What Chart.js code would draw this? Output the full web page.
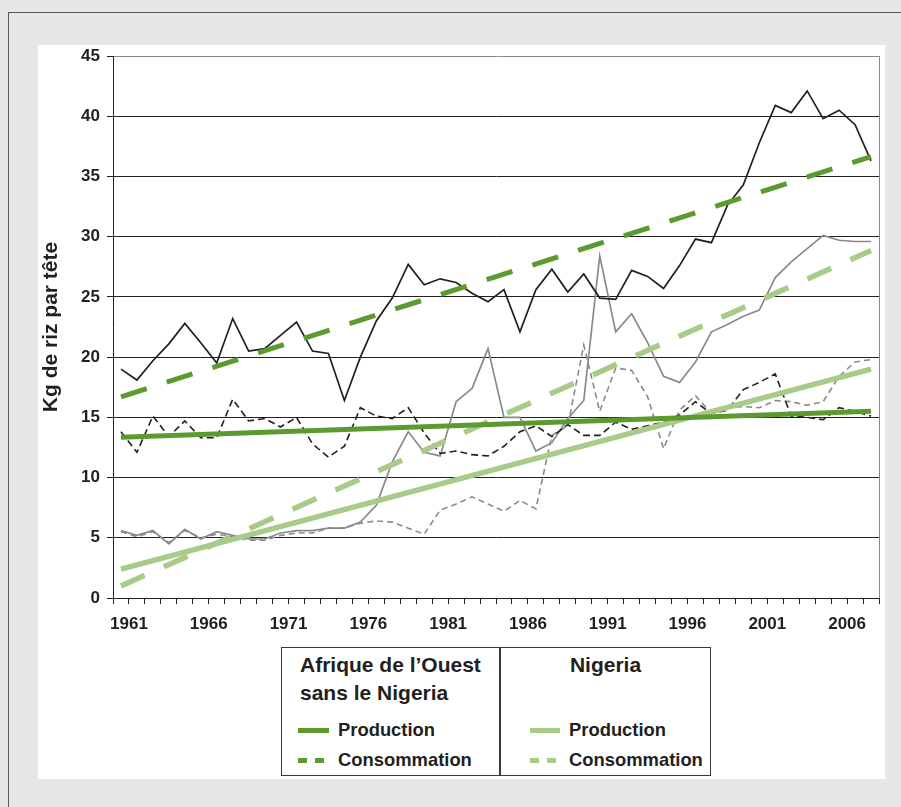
<!DOCTYPE html>
<html lang="fr">
<head>
<meta charset="utf-8">
<title>Kg de riz par tête</title>
<script src="https://cdn.jsdelivr.net/npm/chart.js@4.4.1/dist/chart.umd.min.js"></script>
<style>
  html, body { margin: 0; padding: 0; }
  body {
    width: 901px; height: 807px; position: relative; overflow: hidden;
    background: #e6e7e8; color: #231f20;
    font-family: "Liberation Sans", Arial, Helvetica, sans-serif;
  }
  .cadre { position: absolute; left: 8px; top: 12px; width: 1000px; height: 1000px;
           border-left: 1px solid #58595b; border-top: 1px solid #58595b; }
  .panneau { position: absolute; left: 38px; top: 45px; width: 847px; height: 734px; background: #fff; }
  #grafico { position: absolute; left: 38px; top: 45px; }
  .leyenda { position: absolute; left: 281px; top: 647px; width: 430px; height: 129px;
             border: 1.5px solid #3a3a3a; box-sizing: border-box; }
  .divisor { position: absolute; left: 499px; top: 647px; width: 1.5px; height: 129px; background: #3a3a3a; }
  .titulo { position: absolute; font-weight: bold; font-size: 21px; line-height: 28px; white-space: nowrap; }
  .item { position: absolute; font-weight: bold; font-size: 18.4px; line-height: 20px; white-space: nowrap; }
  .muestra { position: absolute; height: 5px; }
</style>
</head>
<body>
<div class="cadre"></div>
<div class="panneau"></div>
<canvas id="grafico" width="847" height="600"></canvas>

<div class="leyenda"></div>
<div class="divisor"></div>
<div class="titulo" style="left:300px; top:651px;">Afrique de l’Ouest<br>sans le Nigeria</div>
<div class="titulo" style="left:500px; top:651px; width:211px; text-align:center;">Nigeria</div>

<div class="muestra" id="mProdAfrique" style="left:298px; top:728px; width:31px;"></div>
<div class="item" style="left:338px; top:720px;">Production</div>
<div class="muestra" id="mConsoAfrique" style="left:298px; top:758px; width:27px;"></div>
<div class="item" style="left:338px; top:750px;">Consommation</div>

<div class="muestra" id="mProdNigeria" style="left:530px; top:728px; width:30px;"></div>
<div class="item" style="left:569px; top:720px;">Production</div>
<div class="muestra" id="mConsoNigeria" style="left:530px; top:758px; width:27px;"></div>
<div class="item" style="left:569px; top:750px;">Consommation</div>

<script>
// Años (categorías)
const anios = ['1961','1962','1963','1964','1965','1966','1967','1968','1969','1970',
               '1971','1972','1973','1974','1975','1976','1977','1978','1979','1980',
               '1981','1982','1983','1984','1985','1986','1987','1988','1989','1990',
               '1991','1992','1993','1994','1995','1996','1997','1998','1999','2000',
               '2001','2002','2003','2004','2005','2006','2007','2008'];

// Afrique de l'Ouest sans le Nigeria
const consoAfrique = [19.0, 18.1, 19.7, 21.1, 22.8, 21.2, 19.5, 23.2, 20.5, 20.7,
                      21.8, 22.9, 20.5, 20.3, 16.4, 20.0, 23.0, 24.9, 27.7, 26.0,
                      26.5, 26.2, 25.3, 24.6, 25.6, 22.1, 25.6, 27.3, 25.4, 26.9,
                      24.9, 24.8, 27.2, 26.7, 25.7, 27.6, 29.8, 29.5, 32.6, 34.3,
                      37.8, 40.9, 40.3, 42.1, 39.8, 40.5, 39.3, 36.3];
const prodAfrique = [13.8, 12.1, 15.1, 13.4, 14.7, 13.3, 13.3, 16.5, 14.7, 14.9,
                     14.2, 15.0, 12.8, 11.7, 12.6, 15.8, 15.1, 14.9, 15.8, 13.7,
                     12.0, 12.2, 11.9, 11.8, 12.6, 13.8, 14.3, 13.4, 14.4, 13.5,
                     13.5, 14.6, 14.0, 14.3, 14.6, 15.2, 16.3, 15.3, 15.6, 17.3,
                     17.9, 18.6, 15.1, 15.0, 14.8, 15.8, 15.5, 15.1];

// Nigeria
const consoNigeria = [5.6, 5.2, 5.6, 4.5, 5.7, 4.9, 5.5, 5.2, 4.9, 4.9,
                      5.4, 5.6, 5.6, 5.8, 5.8, 6.3, 7.7, 11.3, 13.8, 12.1,
                      11.8, 16.3, 17.4, 20.7, 15.0, 15.0, 12.2, 12.9, 14.9, 16.4,
                      28.4, 22.1, 23.6, 21.2, 18.4, 17.9, 19.6, 22.1, 22.7, 23.4,
                      23.9, 26.6, 27.9, 29.0, 30.1, 29.7, 29.6, 29.6];
const prodNigeria = [5.5, 5.1, 5.5, 4.6, 5.6, 5.0, 5.3, 5.1, 4.8, 4.8,
                     5.2, 5.4, 5.4, 5.8, 5.8, 6.2, 6.4, 6.3, 5.8, 5.3,
                     7.3, 7.8, 8.4, 7.8, 7.2, 8.1, 7.4, 13.5, 14.3, 21.0,
                     15.5, 19.1, 18.9, 16.7, 12.4, 15.6, 16.8, 15.3, 15.8, 15.9,
                     15.8, 16.4, 16.3, 16.0, 16.3, 18.4, 19.6, 19.8];

// Tendencias (extremos)
const aniosTendencia = ['1961', '2008'];
const tendProdAfrique = [13.35, 15.5];
const tendConsoAfrique = [16.7, 36.65];
const tendProdNigeria = [2.4, 19.0];
const tendConsoNigeria = [1.0, 28.85];

const ticksY = [0, 5, 10, 15, 20, 25, 30, 35, 40, 45];

const negro = '#231f20';
const gris = '#8a8a8a';
const verdeOscuro = '#5b9a2f';
const verdeClaro = '#a8cb8a';

// Muestras de la leyenda
document.getElementById('mProdAfrique').style.background = verdeOscuro;
document.getElementById('mProdNigeria').style.background = verdeClaro;
document.getElementById('mConsoAfrique').style.background =
    'repeating-linear-gradient(to right, ' + verdeOscuro + ' 0 9px, transparent 9px 17px)';
document.getElementById('mConsoNigeria').style.background =
    'repeating-linear-gradient(to right, ' + verdeClaro + ' 0 9px, transparent 9px 17px)';

const puntos = (valores) => valores.map((v, i) => ({ x: aniosTendencia[i], y: v }));

const data = {
    labels: anios,
    datasets: [
        { label: 'Tendance production Afrique', data: puntos(tendProdAfrique),
          borderColor: verdeOscuro, borderWidth: 5, order: 1 },
        { label: 'Tendance consommation Afrique', data: puntos(tendConsoAfrique),
          borderColor: verdeOscuro, borderWidth: 5, borderDash: [27, 21], order: 2 },
        { label: 'Tendance production Nigeria', data: puntos(tendProdNigeria),
          borderColor: verdeClaro, borderWidth: 5.5, order: 3 },
        { label: 'Tendance consommation Nigeria', data: puntos(tendConsoNigeria),
          borderColor: verdeClaro, borderWidth: 5.5, borderDash: [26, 21], order: 4 },
        { label: 'Consommation Afrique', data: consoAfrique,
          borderColor: negro, borderWidth: 1.7, order: 5 },
        { label: 'Production Afrique', data: prodAfrique,
          borderColor: negro, borderWidth: 1.6, borderDash: [7, 4], order: 6 },
        { label: 'Consommation Nigeria', data: consoNigeria,
          borderColor: gris, borderWidth: 1.7, order: 7 },
        { label: 'Production Nigeria', data: prodNigeria,
          borderColor: gris, borderWidth: 1.6, borderDash: [6, 4], order: 8 }
    ]
};

// Borde derecho del área del gráfico
const bordeDerecho = {
    id: 'bordeDerecho',
    beforeDatasetsDraw(chart) {
        const { ctx, chartArea } = chart;
        ctx.save();
        ctx.strokeStyle = gris;
        ctx.lineWidth = 1;
        ctx.beginPath();
        ctx.moveTo(chartArea.right + 0.5, chartArea.top);
        ctx.lineTo(chartArea.right + 0.5, chartArea.bottom);
        ctx.stroke();
        ctx.restore();
    }
};

// Tamaño fijo de los ejes, sin relleno automático por las etiquetas
const fijarEje = (escala, ancho, alto) => {
    if (ancho) escala.width = ancho;
    if (alto) escala.height = alto;
    escala.paddingTop = 0;
    escala.paddingBottom = 0;
    escala.paddingLeft = 0;
    escala.paddingRight = 0;
};

Chart.defaults.font.family = '"Liberation Sans", Arial, Helvetica, sans-serif';
Chart.defaults.color = negro;

const config = {
    type: 'line',
    data: data,
    options: {
        responsive: false,
        animation: false,
        layout: { autoPadding: false, padding: { top: 11, right: 6, left: 0, bottom: 0 } },
        elements: {
            point: { radius: 0, hoverRadius: 0 },
            line: { tension: 0, fill: false }
        },
        plugins: {
            legend: { display: false },
            tooltip: { enabled: false }
        },
        scales: {
            x: {
                type: 'category',
                offset: true,
                afterFit: (escala) => fijarEje(escala, 0, 47),
                grid: {
                    display: true, drawOnChartArea: false, drawTicks: true,
                    tickLength: 6, offset: true, color: negro, lineWidth: 1
                },
                border: { display: true, color: negro, width: 1 },
                ticks: {
                    autoSkip: false, maxRotation: 0, minRotation: 0,
                    padding: 10, labelOffset: 8,
                    font: { size: 17, weight: 'bold' }, color: negro,
                    callback: (valor, indice) => indice % 5 === 0 ? anios[indice] : ''
                }
            },
            y: {
                min: ticksY[0],
                max: ticksY[ticksY.length - 1],
                afterFit: (escala) => fijarEje(escala, 75, 0),
                afterBuildTicks: (escala) => { escala.ticks = ticksY.map(v => ({ value: v })); },
                grid: {
                    color: (ctx) => ctx.tick && ctx.tick.value === 45 ? gris : negro,
                    tickColor: negro, lineWidth: 1, tickLength: 6
                },
                border: { display: true, color: negro, width: 1 },
                ticks: {
                    padding: 7,
                    font: { size: 17, weight: 'bold' }, color: negro
                },
                title: {
                    display: true,
                    text: 'Kg de riz par tête',
                    font: { size: 21, weight: 'bold' },
                    color: negro,
                    padding: { top: 1, bottom: 0 }
                }
            }
        }
    },
    plugins: [bordeDerecho]
};

// Crear el gráfico
const grafico = new Chart(document.getElementById('grafico'), config);
</script>
</body>
</html>
